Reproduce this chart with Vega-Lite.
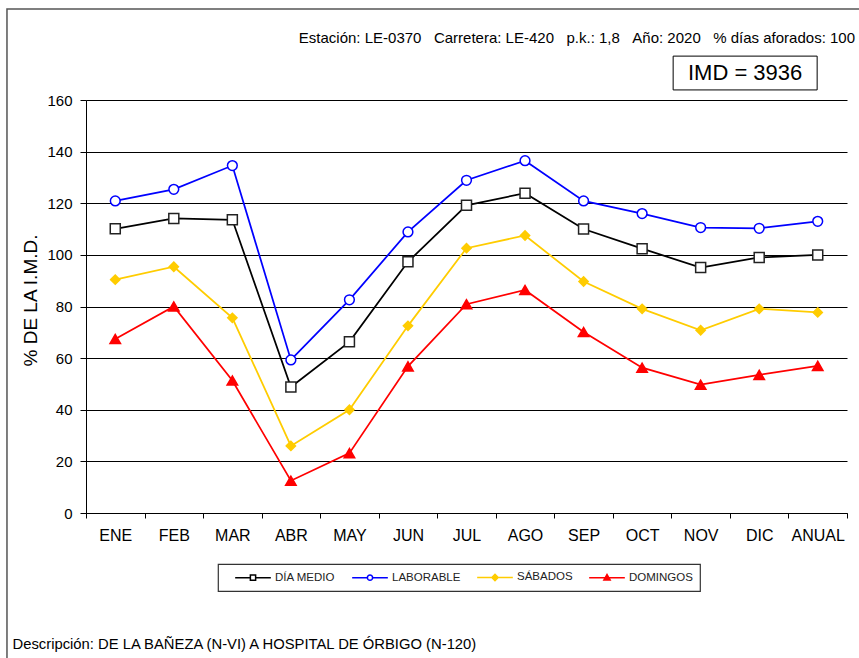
{
  "$schema": "https://vega.github.io/schema/vega-lite/v6.json",
  "width": 761,
  "height": 413,
  "autosize": "none",
  "padding": {"left": 86, "top": 100, "right": 12, "bottom": 145},
  "background": "white",
  "datasets": {
    "trafico": [
      {"mes": "ENE", "serie": "DÍA MEDIO", "valor": 110.1},
      {"mes": "FEB", "serie": "DÍA MEDIO", "valor": 114.1},
      {"mes": "MAR", "serie": "DÍA MEDIO", "valor": 113.6},
      {"mes": "ABR", "serie": "DÍA MEDIO", "valor": 48.8},
      {"mes": "MAY", "serie": "DÍA MEDIO", "valor": 66.3},
      {"mes": "JUN", "serie": "DÍA MEDIO", "valor": 97.3},
      {"mes": "JUL", "serie": "DÍA MEDIO", "valor": 119.2},
      {"mes": "AGO", "serie": "DÍA MEDIO", "valor": 123.9},
      {"mes": "SEP", "serie": "DÍA MEDIO", "valor": 110.0},
      {"mes": "OCT", "serie": "DÍA MEDIO", "valor": 102.4},
      {"mes": "NOV", "serie": "DÍA MEDIO", "valor": 95.1},
      {"mes": "DIC", "serie": "DÍA MEDIO", "valor": 99.0},
      {"mes": "ANUAL", "serie": "DÍA MEDIO", "valor": 100.0},
      {"mes": "ENE", "serie": "LABORABLE", "valor": 120.9},
      {"mes": "FEB", "serie": "LABORABLE", "valor": 125.4},
      {"mes": "MAR", "serie": "LABORABLE", "valor": 134.6},
      {"mes": "ABR", "serie": "LABORABLE", "valor": 59.3},
      {"mes": "MAY", "serie": "LABORABLE", "valor": 82.6},
      {"mes": "JUN", "serie": "LABORABLE", "valor": 108.9},
      {"mes": "JUL", "serie": "LABORABLE", "valor": 128.9},
      {"mes": "AGO", "serie": "LABORABLE", "valor": 136.5},
      {"mes": "SEP", "serie": "LABORABLE", "valor": 120.9},
      {"mes": "OCT", "serie": "LABORABLE", "valor": 116.0},
      {"mes": "NOV", "serie": "LABORABLE", "valor": 110.6},
      {"mes": "DIC", "serie": "LABORABLE", "valor": 110.3},
      {"mes": "ANUAL", "serie": "LABORABLE", "valor": 113.0},
      {"mes": "ENE", "serie": "SÁBADOS", "valor": 90.4},
      {"mes": "FEB", "serie": "SÁBADOS", "valor": 95.4},
      {"mes": "MAR", "serie": "SÁBADOS", "valor": 75.6},
      {"mes": "ABR", "serie": "SÁBADOS", "valor": 26.0},
      {"mes": "MAY", "serie": "SÁBADOS", "valor": 40.0},
      {"mes": "JUN", "serie": "SÁBADOS", "valor": 72.5},
      {"mes": "JUL", "serie": "SÁBADOS", "valor": 102.6},
      {"mes": "AGO", "serie": "SÁBADOS", "valor": 107.5},
      {"mes": "SEP", "serie": "SÁBADOS", "valor": 89.7},
      {"mes": "OCT", "serie": "SÁBADOS", "valor": 79.1},
      {"mes": "NOV", "serie": "SÁBADOS", "valor": 70.8},
      {"mes": "DIC", "serie": "SÁBADOS", "valor": 79.1},
      {"mes": "ANUAL", "serie": "SÁBADOS", "valor": 77.7},
      {"mes": "ENE", "serie": "DOMINGOS", "valor": 67.4},
      {"mes": "FEB", "serie": "DOMINGOS", "valor": 80.0},
      {"mes": "MAR", "serie": "DOMINGOS", "valor": 51.3},
      {"mes": "ABR", "serie": "DOMINGOS", "valor": 12.5},
      {"mes": "MAY", "serie": "DOMINGOS", "valor": 23.2},
      {"mes": "JUN", "serie": "DOMINGOS", "valor": 56.8},
      {"mes": "JUL", "serie": "DOMINGOS", "valor": 80.9},
      {"mes": "AGO", "serie": "DOMINGOS", "valor": 86.4},
      {"mes": "SEP", "serie": "DOMINGOS", "valor": 70.1},
      {"mes": "OCT", "serie": "DOMINGOS", "valor": 56.3},
      {"mes": "NOV", "serie": "DOMINGOS", "valor": 49.7},
      {"mes": "DIC", "serie": "DOMINGOS", "valor": 53.5},
      {"mes": "ANUAL", "serie": "DOMINGOS", "valor": 57.0}
    ],
    "cabecera": [
      {
        "estacion": "Estación: LE-0370\u00a0\u00a0\u00a0Carretera: LE-420\u00a0\u00a0\u00a0p.k.: 1,8\u00a0\u00a0\u00a0Año: 2020\u00a0\u00a0\u00a0% días aforados: 100",
        "imd": "IMD = 3936"
      }
    ]
  },
  "layer": [
    {
      "data": {"name": "trafico"},
      "mark": {"type": "line", "strokeWidth": 1.75},
      "encoding": {
        "x": {
          "field": "mes",
          "type": "nominal",
          "sort": null,
          "bandPosition": 0.5,
          "scale": {
            "type": "band",
            "domain": ["ENE", "FEB", "MAR", "ABR", "MAY", "JUN", "JUL", "AGO", "SEP", "OCT", "NOV", "DIC", "ANUAL"],
            "paddingInner": 0,
            "paddingOuter": 0
          },
          "axis": {
            "title": "Descripción: DE LA BAÑEZA (N-VI) A HOSPITAL DE ÓRBIGO (N-120)",
            "titleX": -74,
            "titleY": 135,
            "titleAlign": "left",
            "titleAnchor": "start",
            "titleBaseline": "alphabetic",
            "titleFontSize": 14.8,
            "titleFontWeight": "normal",
            "titleColor": "#000000",
            "labelAngle": 0,
            "labelFontSize": 16,
            "labelColor": "#000000",
            "labelPadding": 9,
            "tickBand": "extent",
            "tickSize": 5,
            "tickColor": "#000000",
            "domainColor": "#000000",
            "grid": false
          }
        },
        "y": {
          "field": "valor",
          "type": "quantitative",
          "scale": {"domain": [0, 160], "nice": false},
          "axis": {
            "title": "% DE LA I.M.D.",
            "titleFontSize": 19,
            "titleFontWeight": "normal",
            "titleColor": "#000000",
            "titleX": -56,
            "titleY": 200,
            "titleAlign": "center",
            "titleBaseline": "middle",
            "values": [0, 20, 40, 60, 80, 100, 120, 140, 160],
            "labelFontSize": 15,
            "labelColor": "#000000",
            "labelPadding": 8,
            "tickSize": 6,
            "tickColor": "#000000",
            "domainColor": "#000000",
            "grid": true,
            "gridColor": "#000000",
            "gridWidth": 1,
            "gridOpacity": 1
          }
        },
        "color": {
          "field": "serie",
          "type": "nominal",
          "scale": {
            "domain": ["DÍA MEDIO", "LABORABLE", "SÁBADOS", "DOMINGOS"],
            "range": ["#000000", "#0000ff", "#ffcc00", "#ff0000"]
          },
          "legend": {
            "orient": "none",
            "legendX": 132,
            "legendY": 464,
            "direction": "horizontal",
            "title": null,
            "strokeColor": "#333333",
            "fillColor": "#ffffff",
            "padding": 7,
            "labelFontSize": 11.5,
            "labelColor": "#222222",
            "symbolSize": 110,
            "symbolStrokeWidth": 1.5,
            "symbolOffset": 22,
            "labelOffset": 16,
            "columnPadding": 6,
            "encode": {
              "legend": {"update": {"strokeWidth": {"value": 1.2}}},
              "symbols": {
                "update": {
                  "shape": {"signal": "datum.value === 'DÍA MEDIO' ? 'M-3.4,0H-0.5M0.5,0H3.4M-0.5,-0.5H0.5V0.5H-0.5Z' : datum.value === 'LABORABLE' ? 'M-3.4,0H-0.5M0.5,0H3.4M-0.5,0A0.5,0.5,0,1,0,0.5,0A0.5,0.5,0,1,0,-0.5,0Z' : datum.value === 'SÁBADOS' ? 'M-3.4,0H3.4M-0.6,0L0,-0.6L0.6,0L0,0.6Z' : 'M-3.4,0H3.4M-0.6,0.45L0,-0.6L0.6,0.45Z'"},
                  "fill": {"signal": "datum.value === 'DÍA MEDIO' || datum.value === 'LABORABLE' ? '#ffffff' : scale('color', datum.value)"},
                  "stroke": {"signal": "scale('color', datum.value)"},
                  "strokeWidth": {"value": 1.5},
                  "opacity": {"value": 1}
                }
              }
            }
          }
        }
      }
    },
    {
      "data": {"name": "trafico"},
      "transform": [{"filter": {"field": "serie", "equal": "DÍA MEDIO"}}],
      "mark": {"type": "point", "shape": "square", "size": 100, "filled": true, "fill": "#ffffff", "stroke": "#222222", "strokeWidth": 1.5, "opacity": 1},
      "encoding": {
        "x": {"field": "mes", "type": "nominal", "sort": null, "bandPosition": 0.5},
        "y": {"field": "valor", "type": "quantitative"}
      }
    },
    {
      "data": {"name": "trafico"},
      "transform": [{"filter": {"field": "serie", "equal": "LABORABLE"}}],
      "mark": {"type": "point", "shape": "circle", "size": 95, "filled": true, "fill": "#ffffff", "stroke": "#0000ff", "strokeWidth": 1.5, "opacity": 1},
      "encoding": {
        "x": {"field": "mes", "type": "nominal", "sort": null, "bandPosition": 0.5},
        "y": {"field": "valor", "type": "quantitative"}
      }
    },
    {
      "data": {"name": "trafico"},
      "transform": [{"filter": {"field": "serie", "equal": "SÁBADOS"}}],
      "mark": {"type": "point", "shape": "diamond", "size": 85, "filled": true, "fill": "#ffcc00", "stroke": "#ffcc00", "strokeWidth": 1.5, "opacity": 1},
      "encoding": {
        "x": {"field": "mes", "type": "nominal", "sort": null, "bandPosition": 0.5},
        "y": {"field": "valor", "type": "quantitative"}
      }
    },
    {
      "data": {"name": "trafico"},
      "transform": [{"filter": {"field": "serie", "equal": "DOMINGOS"}}],
      "mark": {"type": "point", "shape": "triangle-up", "size": 110, "filled": true, "fill": "#ff0000", "stroke": "#ff0000", "strokeWidth": 1.5, "opacity": 1},
      "encoding": {
        "x": {"field": "mes", "type": "nominal", "sort": null, "bandPosition": 0.5},
        "y": {"field": "valor", "type": "quantitative"}
      }
    },
    {
      "data": {"name": "cabecera"},
      "mark": {"type": "rect", "fillOpacity": 0, "fill": "#ffffff", "stroke": "#555555", "strokeWidth": 1.5, "clip": false},
      "encoding": {
        "x": {"datum": "ENE", "type": "nominal", "bandPosition": -1.35},
        "x2": {"datum": "ANUAL", "bandPosition": 1.3},
        "y": {"datum": 195.3, "type": "quantitative"},
        "y2": {"datum": -60}
      }
    },
    {
      "data": {"name": "cabecera"},
      "mark": {"type": "rect", "fill": "#ffffff", "stroke": "#000000", "strokeWidth": 1, "clip": false},
      "encoding": {
        "x": {"datum": "NOV", "type": "nominal", "bandPosition": 0.03},
        "x2": {"datum": "ANUAL", "bandPosition": 0.49},
        "y": {"datum": 177.0, "type": "quantitative"},
        "y2": {"datum": 163.9}
      }
    },
    {
      "data": {"name": "cabecera"},
      "mark": {"type": "text", "fontSize": 22, "color": "#000000", "align": "center", "baseline": "middle", "clip": false},
      "encoding": {
        "x": {"datum": "DIC", "type": "nominal", "bandPosition": 0.26},
        "y": {"datum": 170.3, "type": "quantitative"},
        "text": {"field": "imd", "type": "nominal"}
      }
    },
    {
      "data": {"name": "cabecera"},
      "mark": {"type": "text", "fontSize": 15, "color": "#000000", "align": "right", "baseline": "middle", "dx": 8, "clip": false},
      "encoding": {
        "x": {"datum": "ANUAL", "type": "nominal", "bandPosition": 1},
        "y": {"datum": 184.0, "type": "quantitative"},
        "text": {"field": "estacion", "type": "nominal"}
      }
    }
  ],
  "config": {
    "font": "Liberation Sans",
    "view": {"stroke": null},
    "axis": {"domainWidth": 1, "tickWidth": 1}
  }
}
